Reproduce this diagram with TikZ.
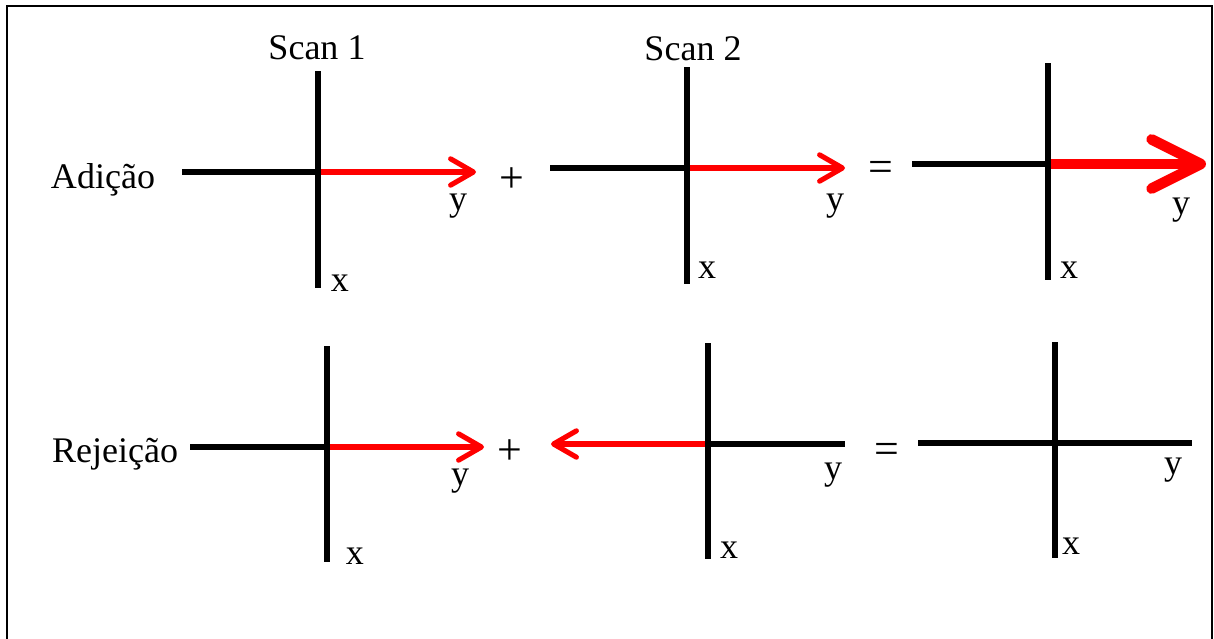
\documentclass[tikz,border=0pt]{standalone}
\usepackage{fontspec}
\setmainfont{Liberation Serif}
\usetikzlibrary{arrows.meta}
\begin{document}
\begin{tikzpicture}[x=0.02cm,y=-0.02cm,>=stealth,
  every node/.style={font=\fontsize{20.5}{24}\selectfont,inner sep=0pt},
  operador/.style={font=\fontsize{25}{28}\selectfont},
  eixo/.style={line width=3.1pt,black},
  vetor/.style={line width=2.9pt,red,-{Straight Barb[length=13pt,width=15pt,round]}},
  vetorsoma/.style={line width=6pt,red,-{Straight Barb[length=28pt,width=28pt,round]}}]
  \useasboundingbox (0,0) rectangle (1214,639);

  % Moldura (aberta embaixo)
  \draw[line width=1.5pt] (7,639) -- (7,6) -- (1212,6) -- (1212,639);

  % Pontos de cada sistema de eixos: origem, topo, base, esquerda, direita
  \foreach \p/\ox/\oy/\t/\b/\l/\r in {1/318/172/71/288/182/476,
      2/687/168/67/284/550/845, 3/1048/164/63/280/912/1206,
      4/327/447/346/562/190/484, 5/708/444/343/559/551/845,
      6/1055/443/342/558/918/1192}{
    \coordinate (o\p) at (\ox,\oy);
    \coordinate (t\p) at (\ox,\t);
    \coordinate (b\p) at (\ox,\b);
    \coordinate (l\p) at (\l,\oy);
    \coordinate (r\p) at (\r,\oy);
  }

  % Vetores de magnetização
  \draw[vetor] (o1) -- (r1);
  \draw[vetor] (o2) -- (r2);
  \draw[vetorsoma] (o3) -- (r3);
  \draw[vetor] (o4) -- (r4);
  \draw[vetor] (o5) -- (l5);

  % Eixos
  \foreach \p in {1,...,6}
    \draw[eixo] (t\p) -- (b\p);
  \draw[eixo] (l1) -- (o1);
  \draw[eixo] (l2) -- (o2);
  \draw[eixo] (l3) -- (o3);
  \draw[eixo] (l4) -- (o4);
  \draw[eixo] (o5) -- (r5);
  \draw[eixo] (l6) -- (r6);

  % Titulos
  \node[anchor=base] (scan1) at (317,59) {Scan 1};
  \node[anchor=base] (scan2) at (693,60) {Scan 2};
  \node[anchor=base] (adicao) at (103,188) {Adição};
  \node[anchor=base] (rejeicao) at (115,462) {Rejeição};

  % Rotulos x e y
  \node[anchor=base] (x1) at (340,291) {x};
  \node[anchor=base] (x2) at (707,278) {x};
  \node[anchor=base] (x3) at (1069,278) {x};
  \node[anchor=base] (x4) at (355,564) {x};
  \node[anchor=base] (x5) at (729,558) {x};
  \node[anchor=base] (x6) at (1071,554) {x};
  \node[anchor=base] (y1) at (458,210) {y};
  \node[anchor=base] (y2) at (835,210) {y};
  \node[anchor=base] (y3) at (1181,214) {y};
  \node[anchor=base] (y4) at (460,485) {y};
  \node[anchor=base] (y5) at (833,479) {y};
  \node[anchor=base] (y6) at (1173,474) {y};

  % Operadores
  \node[operador] (mais1) at (512,180) {+};
  \node[operador] (igual1) at (881,171) {=};
  \node[operador] (mais2) at (510,452) {+};
  \node[operador] (igual2) at (887,453) {=};
\end{tikzpicture}
\end{document}
